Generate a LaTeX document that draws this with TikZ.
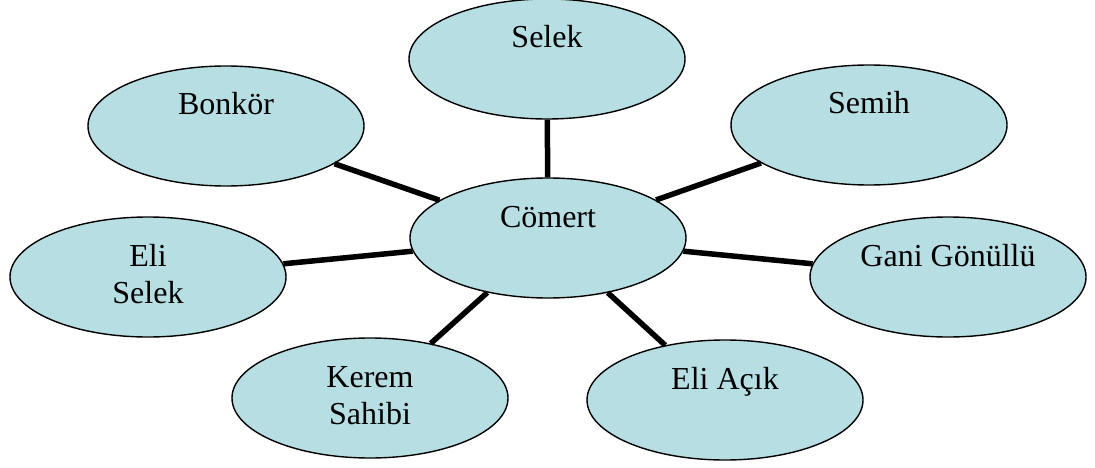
\documentclass[tikz,border=0pt]{standalone}
\usepackage{fontspec}
\setmainfont{Liberation Serif}
\usetikzlibrary{shapes.geometric}
\definecolor{bubble}{RGB}{183,223,227}
\tikzset{
  bub/.style={ellipse, draw=black, line width=1.4pt, fill=bubble, minimum width=276pt, minimum height=120pt, inner sep=0pt},
  lbl/.style={anchor=base, inner sep=0pt, font=\fontsize{32}{37}\selectfont},
  spoke/.style={line width=5.5pt, black}
}
\begin{document}
\begin{tikzpicture}[x=1pt,y=-1pt]
\useasboundingbox (0,0) rectangle (1095,468);
\node[bub] (comert) at (548,238) {};
\node[bub] (selek) at (547,59) {};
\node[bub] (bonkor) at (226,126) {};
\node[bub] (semih) at (869,125) {};
\node[bub] (eliselek) at (148,277) {};
\node[bub] (gani) at (948,277) {};
\node[bub] (kerem) at (370,398) {};
\node[bub] (eliacik) at (725,400) {};
\draw[spoke] (comert) -- (selek);
\draw[spoke] (comert) -- (bonkor);
\draw[spoke] (comert) -- (semih);
\draw[spoke] (comert) -- (eliselek);
\draw[spoke] (comert) -- (gani);
\draw[spoke] (comert) -- (kerem);
\draw[spoke] (comert) -- (eliacik);
\node[lbl] (t-comert) at ([yshift=11pt]comert.center) {Cömert};
\node[lbl] (t-selek) at ([yshift=11pt]selek.center) {Selek};
\node[lbl] (t-bonkor) at ([yshift=11pt]bonkor.center) {Bonkör};
\node[lbl] (t-semih) at ([yshift=11pt]semih.center) {Semih};
\node[lbl] (t-eliselek) at ([yshift=11pt]eliselek.center) {\begin{tabular}[t]{@{}c@{}}Eli\\Selek\end{tabular}};
\node[lbl] (t-gani) at ([yshift=11pt]gani.center) {Gani Gönüllü};
\node[lbl] (t-kerem) at ([yshift=11pt]kerem.center) {\begin{tabular}[t]{@{}c@{}}Kerem\\Sahibi\end{tabular}};
\node[lbl] (t-eliacik) at ([yshift=11pt]eliacik.center) {Eli Açık};
\end{tikzpicture}
\end{document}
